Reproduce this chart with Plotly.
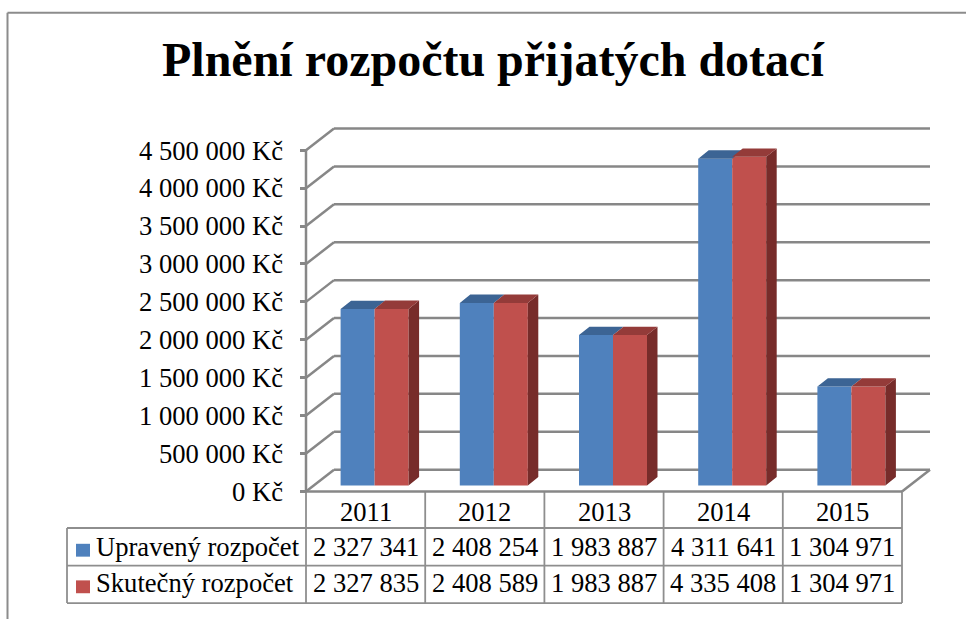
import plotly.graph_objects as go

# ---------------- data ----------------
years = ["2011", "2012", "2013", "2014", "2015"]
upraveny = [2327341, 2408254, 1983887, 4311641, 1304971]
skutecny = [2327835, 2408589, 1983887, 4335408, 1304971]
series_names = ["Upravený rozpočet", "Skutečný rozpočet"]
title_text = "Plnění rozpočtu přijatých dotací"
y_ticks = [0, 500000, 1000000, 1500000, 2000000, 2500000, 3000000, 3500000, 4000000, 4500000]
currency = "Kč"

# ---------------- styling / geometry (pixels) ----------------
W, H = 966, 621
FONT = "Liberation Serif"
FS = 26.6
BLUE, RED = "#4F81BD", "#C0504D"
BLUE_TOP, RED_TOP, RED_SIDE = "#3C6494", "#943B39", "#772C2A"
GRID = "#878787"
TABLE_LINE = "#8E8E8E"

X0, X1 = 306, 902          # front floor edge
Y0, YT = 497, 152          # front axis: 0 and max
VMAX = y_ticks[-1]
NC = len(years)
PXU = (X1 - X0) / NC       # px per category
PXV = (Y0 - YT) / VMAX     # px per value unit
DEPTH_X, DEPTH_Y = 28, 22  # wall depth (px)
BAR_SX, BAR_SY = 9, 6      # bar placement inside depth (px)
BAR_W = 34                 # bar width (px)
FACE_X, FACE_Y = 10.5, 8.5 # bar depth (px)

DOM_L, DOM_R, DOM_B, DOM_T = 300, 945, 505, 120


def px2x(px):
    return (px - X0) / PXU - 0.5


def px2y(py):
    return (Y0 - py) / PXV


def pfx(px):
    return px / W


def pfy(py):
    return 1 - py / H


def fmt(v):
    return f"{v:,}".replace(",", " ")


du, dv = DEPTH_X / PXU, DEPTH_Y / PXV
bw = BAR_W / PXU
sx, sy = BAR_SX / PXU, BAR_SY / PXV
fdu, fdv = FACE_X / PXU, FACE_Y / PXV
xs = list(range(NC))

fig = go.Figure()

offsets = [-bw + sx, sx]
colors = [BLUE, RED]
for name, vals, off, col in zip(series_names, [upraveny, skutecny], offsets, colors):
    fig.add_trace(go.Bar(
        x=xs, y=vals, base=sy, offset=off, width=bw, name=name,
        marker=dict(color=col, line=dict(width=0)), showlegend=False,
        hovertemplate=name + ": %{y:,d} Kč<extra></extra>"))


def poly_trace(polys, color):
    px_, py_ = [], []
    for poly in polys:
        for (a, b) in poly:
            px_.append(a)
            py_.append(b)
        px_.append(poly[0][0])
        py_.append(poly[0][1])
        px_.append(None)
        py_.append(None)
    return go.Scatter(x=px_, y=py_, mode="lines", fill="toself", fillcolor=color,
                      line=dict(width=0, color=color), hoverinfo="skip", showlegend=False)


red_side, blue_top, red_top = [], [], []
for i in xs:
    for s, vals in enumerate([upraveny, skutecny]):
        xa = i + offsets[s]
        xb = xa + bw
        top = sy + vals[i]
        topface = [(xa, top), (xb, top), (xb + fdu, top + fdv), (xa + fdu, top + fdv)]
        if s == 0:
            blue_top.append(topface)
        else:
            red_top.append(topface)
            red_side.append([(xb, sy), (xb, top), (xb + fdu, top + fdv), (xb + fdu, sy + fdv)])

fig.add_trace(poly_trace(red_side, RED_SIDE))
fig.add_trace(poly_trace(blue_top, BLUE_TOP))
fig.add_trace(poly_trace(red_top, RED_TOP))

shapes = []


def dline(xa, ya, xb, yb, w=2.5, c=GRID):
    shapes.append(dict(type="line", xref="x", yref="y", x0=xa, y0=ya, x1=xb, y1=yb,
                       line=dict(color=c, width=w), layer="below"))


def pline(xa, ya, xb, yb, w=1.8, c=TABLE_LINE):
    shapes.append(dict(type="line", xref="paper", yref="paper",
                       x0=pfx(xa), y0=pfy(ya), x1=pfx(xb), y1=pfy(yb),
                       line=dict(color=c, width=w), layer="below"))


xl, xr = -0.5, NC - 0.5
for v in y_ticks:
    dline(xl + du, v + dv, xr + du, v + dv)   # back wall
    dline(xl, v, xl + du, v + dv)             # side wall
dline(xl, 0, xl, VMAX)                        # front axis
dline(xl, 0, xr, 0)                           # floor front edge
dline(xr, 0, xr + du, dv)                     # floor right edge

# chart border
pline(7.5, 13, W + 5, 13, w=2, c="#8C8C8C")
pline(7.5, 13, 7.5, H + 5, w=2, c="#8C8C8C")

# data table
TL = 67
R_HDR, R1, R2, R3 = 497, 534, 572, 610
for yy in (R1, R2, R3):
    pline(TL, yy, X1, yy)
pline(TL, R1, TL, R3)
for k in range(NC + 1):
    xx = X0 + k * PXU
    pline(xx, R_HDR, xx, R3)

annotations = []


def text(x, y, s, size=FS, anchor="center", bold=False):
    annotations.append(dict(
        x=pfx(x), y=pfy(y), xref="paper", yref="paper", text=("<b>%s</b>" % s) if bold else s,
        showarrow=False, xanchor=anchor, yanchor="middle",
        font=dict(family=FONT, size=size, color="black")))


text(493, 60, title_text, size=48, bold=True)

row_mid = [(R_HDR + R1) / 2 + 2, (R1 + R2) / 2, (R2 + R3) / 2 - 1]
for k, yv in enumerate(years):
    cx = X0 + (k + 0.5) * PXU
    text(cx, row_mid[0], yv)
    text(cx, row_mid[1], fmt(upraveny[k]))
    text(cx, row_mid[2], fmt(skutecny[k]))

for r, (name, col) in enumerate(zip(series_names, colors)):
    ym = row_mid[r + 1]
    shapes.append(dict(type="rect", xref="paper", yref="paper",
                       x0=pfx(76), x1=pfx(90), y0=pfy(ym - 3), y1=pfy(ym + 10),
                       fillcolor=col, line=dict(width=0)))
    text(94, ym, name, anchor="left")

fig.update_layout(
    width=W, height=H, margin=dict(l=0, r=0, t=0, b=0),
    paper_bgcolor="white", plot_bgcolor="white",
    barmode="overlay", separators=", ", showlegend=False,
    font=dict(family=FONT, size=FS, color="black"),
    shapes=shapes, annotations=annotations,
    xaxis=dict(domain=[pfx(DOM_L), pfx(DOM_R)], range=[px2x(DOM_L), px2x(DOM_R)],
               visible=False, fixedrange=True),
    yaxis=dict(domain=[pfy(DOM_B), pfy(DOM_T)], range=[px2y(DOM_B), px2y(DOM_T)],
               tickmode="array", tickvals=y_ticks,
               ticktext=[fmt(v) + " " + currency for v in y_ticks],
               ticks="inside", ticklen=6, tickwidth=2.5, tickcolor=GRID,
               showgrid=False, zeroline=False, showline=False,
               ticklabelstandoff=16, fixedrange=True,
               tickfont=dict(family=FONT, size=FS, color="black")),
)

fig.write_html("out.html", config={"displayModeBar": False},
               post_script="document.body.style.margin='0';document.body.style.overflow='hidden';")
